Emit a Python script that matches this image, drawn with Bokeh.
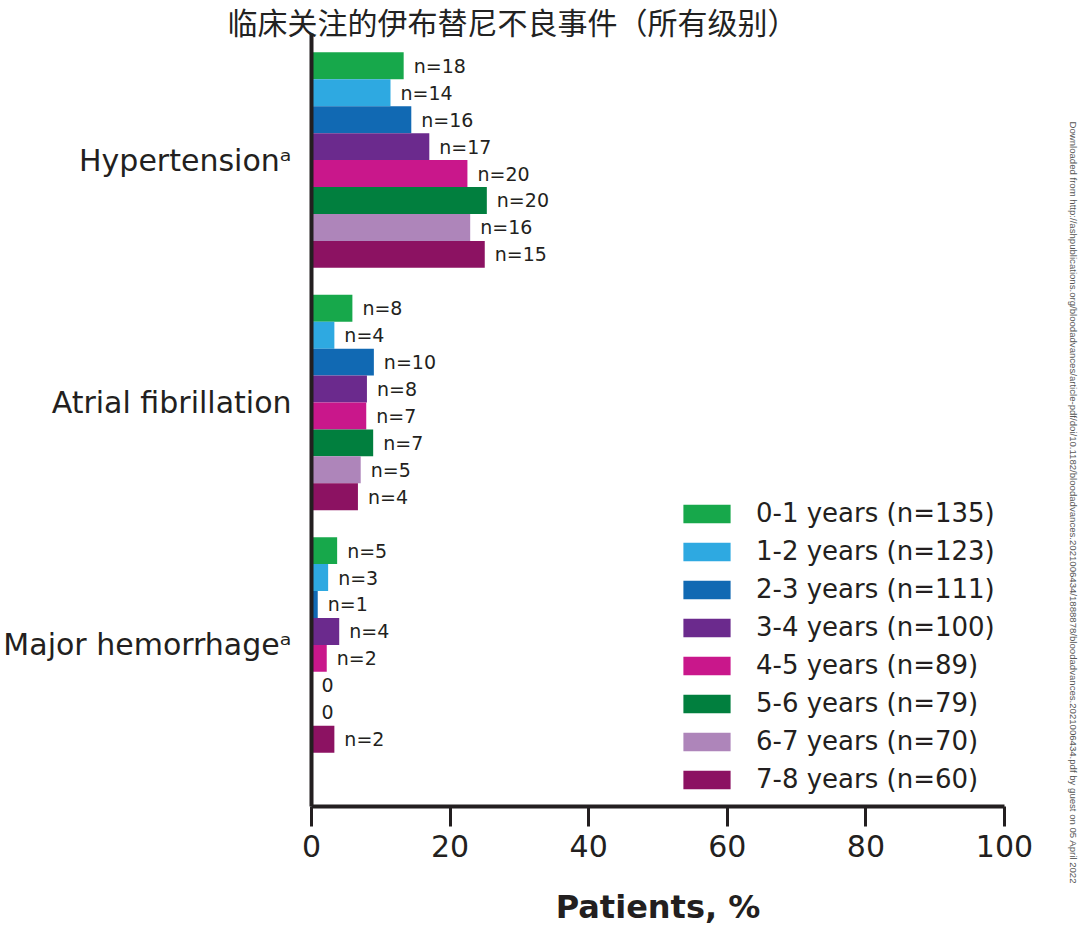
import math
from bokeh.plotting import figure
from bokeh.models import Range1d, FixedTicker, Legend, LegendItem, ColumnDataSource, Title
from bokeh.core.properties import value
from bokeh.embed import file_html
from bokeh.resources import INLINE

# ---------------- data ----------------
title_text = "临床关注的伊布替尼不良事件（所有级别）"
categories = ["Hypertensionᵃ", "Atrial fibrillation", "Major hemorrhageᵃ"]
series = ["0-1 years (n=135)", "1-2 years (n=123)", "2-3 years (n=111)", "3-4 years (n=100)",
          "4-5 years (n=89)", "5-6 years (n=79)", "6-7 years (n=70)", "7-8 years (n=60)"]
colors = ["#17A84B", "#2EA9E1", "#1169B3", "#6B2A8D", "#C9178B", "#017F3E", "#AE85BA", "#8C1262"]

pct_hypertension = [13.3, 11.4, 14.4, 17.0, 22.5, 25.3, 22.9, 25.0]
pct_afib = [5.9, 3.3, 9.0, 8.0, 7.9, 8.9, 7.1, 6.7]
pct_hemorrhage = [3.7, 2.4, 0.9, 4.0, 2.2, 0.0, 0.0, 3.3]

n_hypertension = [18, 14, 16, 17, 20, 20, 16, 15]
n_afib = [8, 4, 10, 8, 7, 7, 5, 4]
n_hemorrhage = [5, 3, 1, 4, 2, 0, 0, 2]

x_ticks = [0, 20, 40, 60, 80, 100]
x_label = "Patients, %"
watermark = ("Downloaded from http://ashpublications.org/bloodadvances/article-pdf/doi/10.1182/"
             "bloodadvances.2021006434/1888878/bloodadvances.2021006434.pdf by guest on 05 April 2022")

pcts = [pct_hypertension, pct_afib, pct_hemorrhage]
counts = [n_hypertension, n_afib, n_hemorrhage]

# ---------------- layout in bar units ----------------
n_series = len(series)
group_pitch = n_series + 1
y_top = 1 + group_pitch * len(categories)  # 28
y_max = 28.7
ink = "#231F20"
FONT = "DejaVu Sans"

p = figure(width=1080, height=930, output_backend="svg", toolbar_location=None,
           x_range=Range1d(0, 100), y_range=Range1d(0, y_max),
           min_border_left=311, min_border_right=76, min_border_top=33, min_border_bottom=124)
p.outline_line_color = None
p.xgrid.visible = False
p.ygrid.visible = False
p.background_fill_color = "white"
p.border_fill_color = "white"

# title above
p.title.text = title_text
p.title.align = "left"
p.title.offset = -84
p.title.standoff = -20
p.title.vertical_align = "middle"
p.title.text_font = "Noto Sans CJK SC"
p.title.text_font_size = "30px"
p.title.text_font_style = "normal"
p.title.text_color = "#222222"

def bar_center(g, s):
    return y_top - group_pitch * g - s - 0.5

legend_items = []
for s in range(n_series):
    ys = [bar_center(g, s) for g in range(len(categories))]
    xs = [pcts[g][s] for g in range(len(categories))]
    labs = [("n=%d" % counts[g][s]) if counts[g][s] > 0 else "0" for g in range(len(categories))]
    src = ColumnDataSource(dict(y=ys, x=xs, lab=labs))
    r = p.hbar(y="y", left=0, right="x", height=1.0, source=src,
               fill_color=colors[s], line_color=None)
    p.text(x="x", y="y", text="lab", source=src, x_offset=10,
           text_align="left", text_baseline="middle",
           text_font=value(FONT), text_font_size="19px", text_color=ink)
    legend_items.append(LegendItem(label=series[s], renderers=[r]))

legend = Legend(items=legend_items, location=(366, 12),
                glyph_width=59, glyph_height=23, label_standoff=20,
                label_text_font=FONT, label_text_font_size="26px", label_text_color=ink,
                spacing=8, padding=0, margin=0,
                border_line_color=None, background_fill_alpha=0)
p.add_layout(legend)

# x axis
xa = p.xaxis[0]
xa.ticker = FixedTicker(ticks=x_ticks)
xa.axis_line_width = 4
xa.axis_line_color = ink
xa.major_tick_line_width = 3
xa.major_tick_line_color = ink
xa.major_tick_out = 20
xa.major_tick_in = 0
xa.minor_tick_line_color = None
xa.major_label_text_font = FONT
xa.major_label_text_font_size = "30px"
xa.major_label_text_color = ink
xa.major_label_standoff = 8
xa.axis_label = x_label
xa.axis_label_text_font = FONT
xa.axis_label_text_font_style = "bold"
xa.axis_label_text_font_size = "32px"
xa.axis_label_text_color = ink
xa.axis_label_standoff = 28

# y axis
ya = p.yaxis[0]
group_centers = [y_top - group_pitch * g - n_series / 2 for g in range(len(categories))]
ya.ticker = FixedTicker(ticks=group_centers)
ya.major_label_overrides = {c: lab for c, lab in zip(group_centers, categories)}
ya.axis_line_width = 4
ya.axis_line_color = ink
ya.major_tick_line_color = None
ya.minor_tick_line_color = None
ya.major_label_text_font = FONT
ya.major_label_text_font_size = "30px"
ya.major_label_text_color = ink
ya.major_label_standoff = 14

# vertical watermark on the right side (blank spacer title pushes it outward)
p.add_layout(Title(text=" ", standoff=60, text_font_size="1px"), "right")
p.add_layout(Title(text=watermark, align="left", offset=88, standoff=0,
                   text_font="Liberation Sans", text_font_size="9.6px",
                   text_font_style="normal", text_color="#555555"), "right")

open("out.html", "w").write(file_html(p, INLINE))
